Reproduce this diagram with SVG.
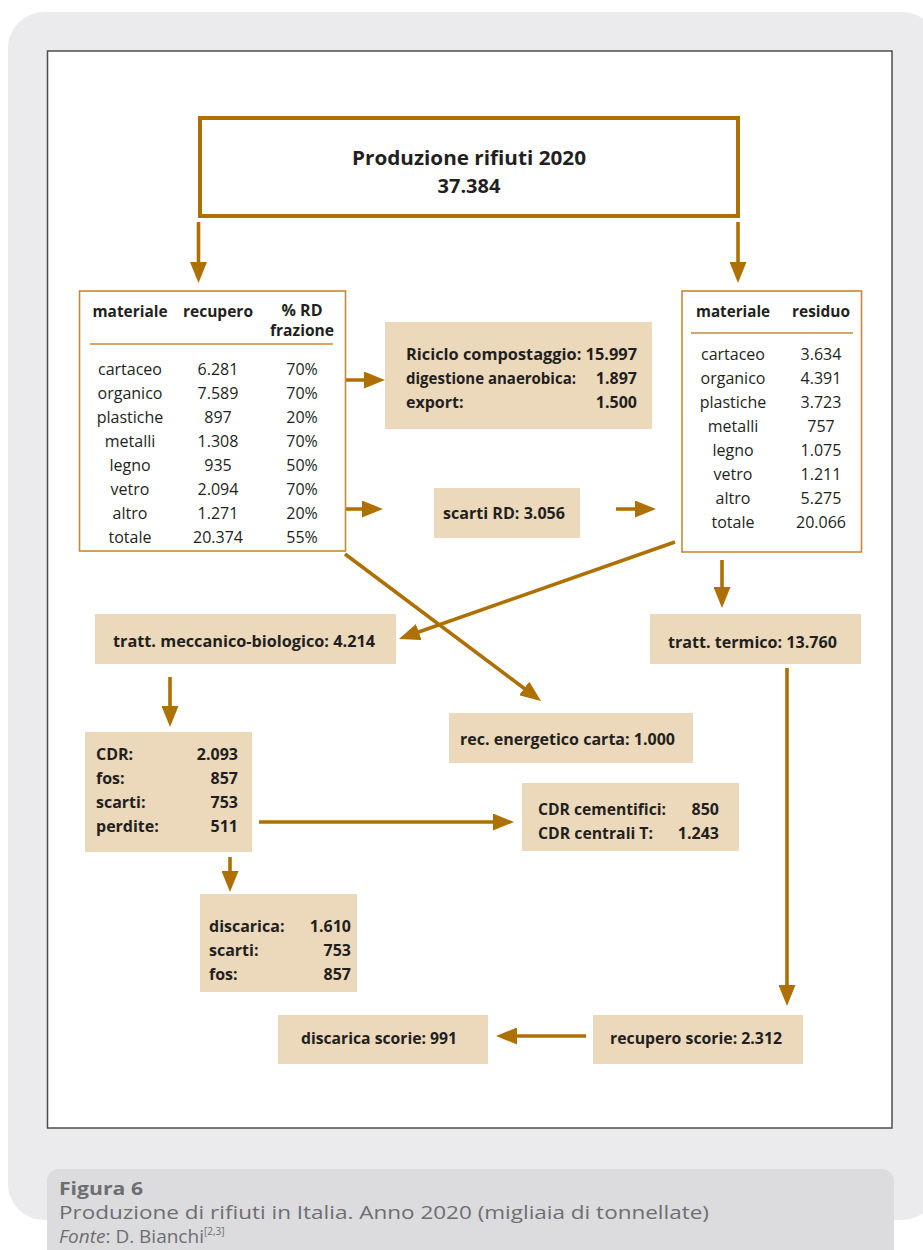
<svg xmlns="http://www.w3.org/2000/svg" width="923" height="1250" viewBox="0 0 923 1250">
<defs>
<style>
.t{font-family:"Open Sans","Noto Sans","Liberation Sans",sans-serif;font-size:16px;fill:#231f20;font-weight:700}
.r{font-weight:400}
.m{text-anchor:middle}
.e{text-anchor:end}
.ttl{font-size:20px}
.box{fill:#ecd9bc}
.tbl{fill:#fff;stroke:#c48a36;stroke-width:1.6}
.hl{stroke:#c48a36;stroke-width:1.5}
.conn{stroke:#ae7003;stroke-width:3.6;fill:none;marker-end:url(#ah)}
.cap{font-family:"Open Sans","Liberation Sans",sans-serif;fill:#6d6e71;font-size:18px}
</style>
<marker id="ah" markerUnits="userSpaceOnUse" viewBox="0 0 21 17" markerWidth="21" markerHeight="17" refX="16" refY="8.5" orient="auto">
<path d="M0,0 L21,8.5 L0,17 z" fill="#ae7003"/>
</marker>
</defs>
<rect width="923" height="1250" fill="#fff"/>
<rect x="8" y="12" width="930" height="1208" rx="36" fill="#ebebed"/>
<rect x="47.5" y="51" width="844.5" height="1077" fill="#fff" stroke="#4d4d4f" stroke-width="1.5"/>
<g id="caption">
<rect x="47" y="1169" width="847" height="100" rx="12" fill="#dcdcde"/>
<text class="cap" x="59" y="1195" font-weight="700" textLength="84" lengthAdjust="spacingAndGlyphs">Figura 6</text>
<text class="cap" x="59" y="1219" style="font-size:19px" textLength="650" lengthAdjust="spacingAndGlyphs">Produzione di rifiuti in Italia. Anno 2020 (migliaia di tonnellate)</text>
<text class="cap" x="59" y="1243" style="font-size:19px"><tspan font-style="italic">Fonte</tspan>: D. Bianchi<tspan style="font-size:10px" dy="-8">[2,3]</tspan></text>
</g>
<g id="connectors">
<path class="conn" d="M198.5,222 V278"/>
<path class="conn" d="M738,222 V278"/>
<path class="conn" d="M343,380 H380"/>
<path class="conn" d="M343,509 H378"/>
<path class="conn" d="M616,509 H651"/>
<path class="conn" d="M675,542 L403.7,637.3"/>
<path class="conn" d="M345,554 L537,698"/>
<path class="conn" d="M722,560 V603"/>
<path class="conn" d="M170,677 V722"/>
<path class="conn" d="M787,668 V1001"/>
<path class="conn" d="M230,857 V887"/>
<path class="conn" d="M259,822 H509"/>
<path class="conn" d="M586,1036 H501"/>
</g>
<g id="produzione">
<rect x="200" y="118" width="538" height="98" fill="#fff" stroke="#ae7003" stroke-width="4"/>
<text class="t m ttl" x="469" y="165" textLength="234" lengthAdjust="spacingAndGlyphs">Produzione rifiuti 2020</text>
<text class="t m ttl" x="469" y="193">37.384</text>
</g>
<g id="tabella-recupero">
<rect class="tbl" x="79.5" y="291" width="266" height="260"/>
<text class="t m" x="130" y="317" textLength="75" lengthAdjust="spacingAndGlyphs">materiale</text>
<text class="t m" x="218" y="317" textLength="70" lengthAdjust="spacingAndGlyphs">recupero</text>
<text class="t m" x="302" y="316">% RD</text>
<text class="t m" x="302" y="336" textLength="64" lengthAdjust="spacingAndGlyphs">frazione</text>
<line class="hl" x1="90" y1="344" x2="333" y2="344"/>
<text class="t r m" x="130" y="375">cartaceo</text><text class="t r m" x="218" y="375">6.281</text><text class="t r m" x="302" y="375">70%</text>
<text class="t r m" x="130" y="399">organico</text><text class="t r m" x="218" y="399">7.589</text><text class="t r m" x="302" y="399">70%</text>
<text class="t r m" x="130" y="423">plastiche</text><text class="t r m" x="218" y="423">897</text><text class="t r m" x="302" y="423">20%</text>
<text class="t r m" x="130" y="447">metalli</text><text class="t r m" x="218" y="447">1.308</text><text class="t r m" x="302" y="447">70%</text>
<text class="t r m" x="130" y="471">legno</text><text class="t r m" x="218" y="471">935</text><text class="t r m" x="302" y="471">50%</text>
<text class="t r m" x="130" y="495">vetro</text><text class="t r m" x="218" y="495">2.094</text><text class="t r m" x="302" y="495">70%</text>
<text class="t r m" x="130" y="519">altro</text><text class="t r m" x="218" y="519">1.271</text><text class="t r m" x="302" y="519">20%</text>
<text class="t r m" x="130" y="543">totale</text><text class="t r m" x="218" y="543">20.374</text><text class="t r m" x="302" y="543">55%</text>
</g>
<g id="tabella-residuo">
<rect class="tbl" x="682" y="291" width="179.5" height="261"/>
<text class="t m" x="733" y="317" textLength="74" lengthAdjust="spacingAndGlyphs">materiale</text>
<text class="t m" x="821" y="317" textLength="58" lengthAdjust="spacingAndGlyphs">residuo</text>
<line class="hl" x1="691" y1="333" x2="853" y2="333"/>
<text class="t r m" x="733" y="360">cartaceo</text><text class="t r m" x="821" y="360">3.634</text>
<text class="t r m" x="733" y="384">organico</text><text class="t r m" x="821" y="384">4.391</text>
<text class="t r m" x="733" y="408">plastiche</text><text class="t r m" x="821" y="408">3.723</text>
<text class="t r m" x="733" y="432">metalli</text><text class="t r m" x="821" y="432">757</text>
<text class="t r m" x="733" y="456">legno</text><text class="t r m" x="821" y="456">1.075</text>
<text class="t r m" x="733" y="480">vetro</text><text class="t r m" x="821" y="480">1.211</text>
<text class="t r m" x="733" y="504">altro</text><text class="t r m" x="821" y="504">5.275</text>
<text class="t r m" x="733" y="528">totale</text><text class="t r m" x="821" y="528">20.066</text>
</g>
<g id="riciclo">
<rect class="box" x="385" y="322" width="267" height="107"/>
<text class="t" x="406" y="360" textLength="231" lengthAdjust="spacingAndGlyphs">Riciclo compostaggio: 15.997</text>
<text class="t" x="406" y="384" textLength="170" lengthAdjust="spacingAndGlyphs">digestione anaerobica:</text>
<text class="t e" x="637" y="384">1.897</text>
<text class="t" x="406" y="408">export:</text>
<text class="t e" x="637" y="408">1.500</text>
</g>
<g id="scarti-rd">
<rect class="box" x="434" y="488" width="146" height="50"/>
<text class="t" x="443" y="519" textLength="122" lengthAdjust="spacingAndGlyphs">scarti RD: 3.056</text>
</g>
<g id="tmb">
<rect class="box" x="95" y="614" width="301" height="50"/>
<text class="t" x="113" y="647" textLength="262" lengthAdjust="spacingAndGlyphs">tratt. meccanico-biologico:  4.214</text>
</g>
<g id="termico">
<rect class="box" x="650" y="614" width="211" height="50"/>
<text class="t" x="668" y="648" textLength="169" lengthAdjust="spacingAndGlyphs">tratt. termico:  13.760</text>
</g>
<g id="rec-energetico">
<rect class="box" x="449" y="713" width="244" height="50"/>
<text class="t" x="460" y="745" textLength="215" lengthAdjust="spacingAndGlyphs">rec. energetico carta:  1.000</text>
</g>
<g id="cdr">
<rect class="box" x="85" y="732" width="167" height="120"/>
<text class="t" x="96" y="760">CDR:</text><text class="t e" x="238" y="760">2.093</text>
<text class="t" x="96" y="784">fos:</text><text class="t e" x="238" y="784">857</text>
<text class="t" x="96" y="808">scarti:</text><text class="t e" x="238" y="808">753</text>
<text class="t" x="96" y="832">perdite:</text><text class="t e" x="238" y="832">511</text>
</g>
<g id="cdr-uso">
<rect class="box" x="522" y="783" width="217" height="68"/>
<text class="t" x="538" y="815" textLength="128" lengthAdjust="spacingAndGlyphs">CDR cementifici:</text><text class="t e" x="719" y="815">850</text>
<text class="t" x="538" y="839" textLength="115" lengthAdjust="spacingAndGlyphs">CDR centrali T:</text><text class="t e" x="719" y="839">1.243</text>
</g>
<g id="discarica">
<rect class="box" x="200" y="894" width="157" height="98"/>
<text class="t" x="209" y="932">discarica:</text><text class="t e" x="351" y="932">1.610</text>
<text class="t" x="209" y="956">scarti:</text><text class="t e" x="351" y="956">753</text>
<text class="t" x="209" y="980">fos:</text><text class="t e" x="351" y="980">857</text>
</g>
<g id="recupero-scorie">
<rect class="box" x="593" y="1015" width="210" height="49"/>
<text class="t" x="610" y="1044" textLength="172" lengthAdjust="spacingAndGlyphs">recupero scorie: 2.312</text>
</g>
<g id="discarica-scorie">
<rect class="box" x="278" y="1015" width="210" height="49"/>
<text class="t" x="301" y="1044" textLength="156" lengthAdjust="spacingAndGlyphs">discarica scorie: 991</text>
</g>
</svg>
